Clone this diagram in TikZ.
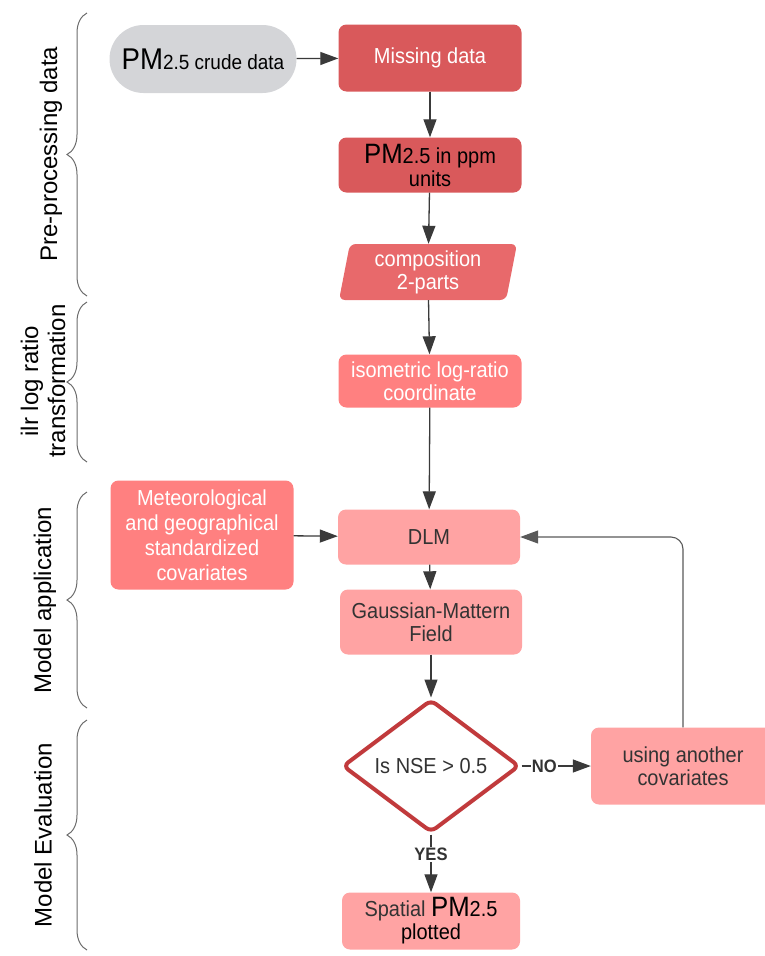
\documentclass[tikz,border=0pt]{standalone}
\usepackage{fontspec}
\setmainfont{Liberation Sans}[FakeStretch = 0.92]
\newfontfamily\stagefont{Liberation Sans}
\usetikzlibrary{arrows.meta,shapes.geometric,decorations.pathreplacing}

\definecolor{crudegray}{HTML}{D4D5D8}
\definecolor{darkred}{HTML}{D9595B}
\definecolor{midred}{HTML}{E8696B}
\definecolor{lightred}{HTML}{FF8080}
\definecolor{palered}{HTML}{FFA3A3}
\definecolor{decisionred}{HTML}{C13A3C}
\definecolor{linegray}{HTML}{3A3A3A}
\definecolor{textgray}{HTML}{333333}

\newcommand{\bigpm}{{\fontsize{28}{28}\selectfont PM}}

\begin{document}
\begin{tikzpicture}
        [
            x = 1pt, y = -1pt,
            every node/.style = {font = \fontsize{21.7}{23}\selectfont, align = center, inner sep = 2pt},
            process/.style = {rectangle, rounded corners = 8pt, minimum width = 183pt},
            flow/.style = {draw = linegray, line width = 1.3pt, -{Triangle[length = 18pt, width = 13pt]}},
            answer/.style = {font = \fontsize{18}{18}\selectfont\bfseries, text = textgray, fill = white, inner sep = 1pt},
            stage/.style = {draw = gray!85!black, line width = 1pt, decorate, decoration = {brace, amplitude = 20pt}},
            stagelabel/.style = {rotate = 90, font = \stagefont\fontsize{24}{27}\selectfont, text = black}
        ]

        \useasboundingbox (0,0) rectangle (765,956);

        \node (crude) [rectangle, rounded corners = 34pt, fill = crudegray, minimum width = 187pt, minimum height = 68pt,
            font = \fontsize{20.6}{22}\selectfont]
            at (203,59) {{\fontsize{30}{30}\selectfont PM}2.5 crude data};
        \node (missing) [process, fill = darkred, text = white, minimum height = 67pt]
            at (430,58) {Missing data};
        \node (ppm) [process, fill = darkred, text = black, minimum height = 55pt]
            at (430,165) {\bigpm2.5 in ppm\\units};
        \node (comp) [trapezium, trapezium left angle = 77, trapezium right angle = 103, trapezium stretches body,
            rounded corners = 6pt, fill = midred, text = white, minimum width = 178pt, minimum height = 56pt]
            at (428,272) {composition\\2-parts};
        \node (ilr) [process, fill = lightred, text = white, minimum height = 53pt]
            at (430,381) {isometric log-ratio\\coordinate};
        \node (meteo) [process, fill = lightred, text = white, minimum height = 109pt, font = \fontsize{21.7}{25}\selectfont]
            at (202,535) {Meteorological\\and geographical\\standardized\\covariates};
        \node (dlm) [process, fill = palered, text = textgray, minimum height = 55pt, minimum width = 182pt]
            at (429,537) {DLM};
        \node (field) [process, fill = palered, text = textgray, minimum height = 65pt, minimum width = 182pt]
            at (431,622) {Gaussian-Mattern\\Field};
        \node (nse) [diamond, aspect = 1.33, draw = decisionred, line width = 4pt, rounded corners = 6pt, fill = white,
            text = textgray, minimum width = 177pt, minimum height = 133pt, inner sep = 0pt]
            at (431,766) {Is NSE > 0.5};
        \node (another) [process, fill = palered, text = textgray, minimum height = 77pt, minimum width = 184pt]
            at (683,766) {using another\\covariates};
        \node (spatial) [process, fill = palered, text = textgray, minimum height = 57pt, minimum width = 178pt]
            at (431,921) {Spatial {\color{black}\bigpm2.5}\\{\color{black}plotted}};

        \draw [flow] (crude) -- (missing);
        \draw [flow] (missing) -- (ppm);
        \draw [flow] (ppm) -- (comp);
        \draw [flow] (comp) -- (ilr);
        \draw [flow] (ilr) -- (dlm);
        \draw [flow] (meteo) -- (dlm);
        \draw [flow] (dlm) -- (field);
        \draw [flow] (field) -- (nse);
        \draw [flow] (nse) -- node [answer, pos = 0.33] {NO} (another);
        \draw [flow] (nse) -- node [answer, pos = 0.35] {YES} (spatial);
        \draw [flow, draw = gray!70!black, line width = 1.1pt, rounded corners = 12pt] (another.north) |- (dlm.east);

        \coordinate (pretop) at (87,13);
        \coordinate (prebot) at (87,296);
        \coordinate (ilrtop) at (87,302);
        \coordinate (ilrbot) at (87,462);
        \coordinate (apptop) at (87,492);
        \coordinate (appbot) at (87,708);
        \coordinate (evaltop) at (87,720);
        \coordinate (evalbot) at (87,950);

        \draw [stage] (prebot) -- (pretop);
        \draw [stage] (ilrbot) -- (ilrtop);
        \draw [stage] (appbot) -- (apptop);
        \draw [stage] (evalbot) -- (evaltop);

        \node (prelabel) [stagelabel] at (51,154) {Pre-processing data};
        \node (ilrlabel) [stagelabel] at (43,381) {ilr log ratio\\transformation};
        \node (applabel) [stagelabel] at (45,600) {Model application};
        \node (evallabel) [stagelabel] at (43,835) {Model Evaluation};
\end{tikzpicture}
\end{document}
